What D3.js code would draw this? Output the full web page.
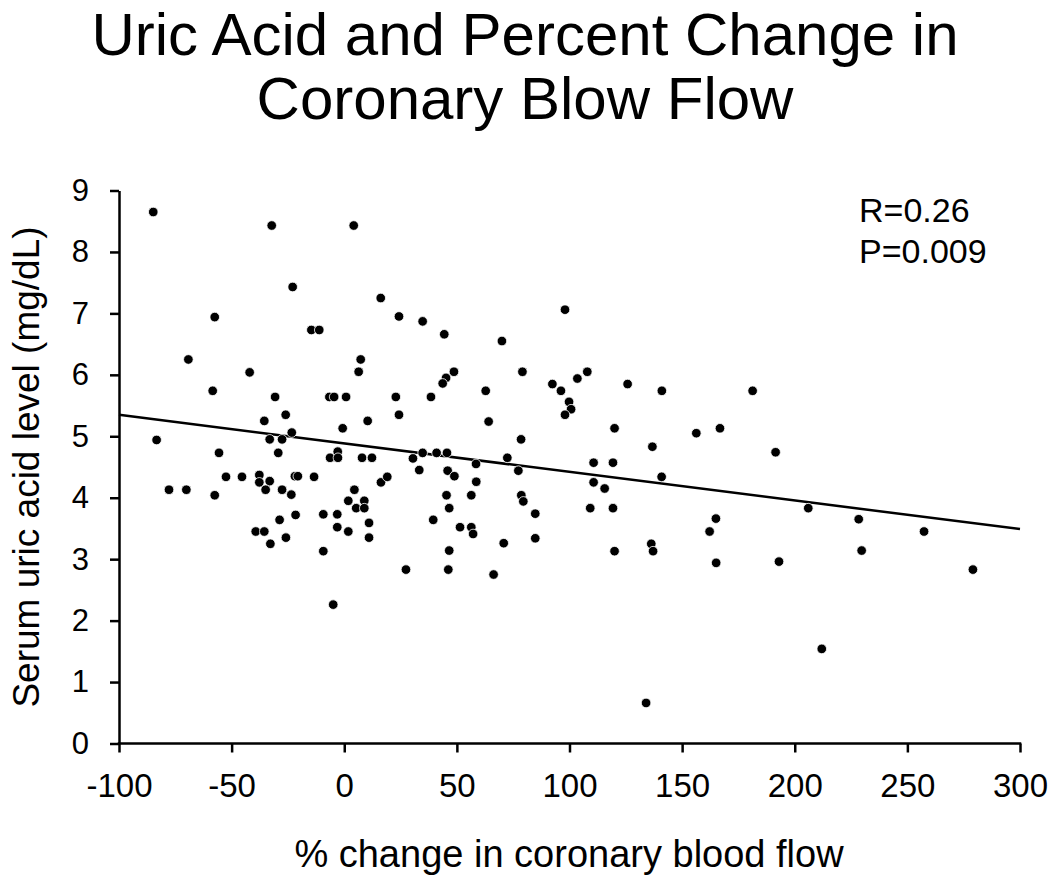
<!DOCTYPE html>
<html>
<head>
<meta charset="utf-8">
<script src="https://cdn.jsdelivr.net/npm/d3@7"></script>
<style>
  body { margin: 0; background: #fff; }
  svg { display: block; font-family: "Liberation Sans", Arial, sans-serif; }
</style>
</head>
<body>
<script>
// % change in coronary blood flow
const xVals = [
  -84.8, -32.2, -22.9, -57.5, -14.6, -11.1, -69.2, -42.0, -58.4, -30.7,
  -6.6, -4.5, 0.8, -26.0, -35.5, -0.7, -23.3, -83.3, -33.1, -27.6,
  -55.6, -29.3, -2.9, -6.3, -2.8, -77.8, -70.1, -52.5, -45.4, -37.7,
  -37.7, -33.1, -34.9, -27.6, -57.5, -23.5, -21.9, -20.6, -13.4, 1.8,
  -21.6, -9.3, -3.1, -28.7, -3.1, -39.3, -35.5, 1.8, -25.9, -32.8,
  -9.3, -4.9, 4.2, 16.2, 24.3, 34.8, 44.4, 70.0, 98.0, 7.3,
  6.4, 48.7, 45.2, 43.7, 79.1, 92.4, 96.2, 103.5, 99.8, 100.7,
  98.0, 22.9, 38.5, 62.8, 10.4, 24.3, 64.1, 78.5, 7.9, 12.3,
  30.5, 34.8, 41.0, 45.6, 58.5, 72.4, 33.3, 45.9, 48.9, 58.6,
  77.3, 16.3, 19.1, 4.5, 8.9, 5.3, 8.9, 11.0, 11.0, 45.4,
  46.6, 39.5, 56.4, 51.4, 56.4, 57.2, 78.6, 79.5, 84.8, 84.8,
  70.8, 46.6, 27.4, 46.2, 66.3, 107.9, 125.8, 141.0, 181.3, 120.0,
  156.3, 166.8, 136.8, 191.5, 110.7, 119.3, 140.9, 110.7, 115.6, 109.2,
  119.3, 206.0, 165.0, 162.2, 120.0, 136.3, 137.1, 165.1, 193.0, 228.4,
  229.7, 257.4, 279.1, 212.0, 134.0
];
// Serum uric acid level (mg/dL)
const yVals = [
  8.65, 8.43, 7.43, 6.94, 6.73, 6.73, 6.25, 6.04, 5.74, 5.64,
  5.64, 5.64, 5.64, 5.35, 5.25, 5.13, 5.06, 4.94, 4.95, 4.95,
  4.73, 4.73, 4.75, 4.65, 4.65, 4.13, 4.13, 4.34, 4.34, 4.37,
  4.25, 4.27, 4.13, 4.13, 4.04, 4.05, 4.35, 4.35, 4.34, 3.95,
  3.72, 3.73, 3.73, 3.64, 3.52, 3.45, 3.45, 3.45, 3.35, 3.25,
  3.13, 2.26, 8.43, 7.25, 6.95, 6.87, 6.66, 6.55, 7.06, 6.25,
  6.05, 6.05, 5.95, 5.86, 6.05, 5.85, 5.74, 5.94, 5.56, 5.44,
  5.35, 5.64, 5.64, 5.74, 5.25, 5.35, 5.24, 4.95, 4.65, 4.65,
  4.64, 4.73, 4.73, 4.73, 4.55, 4.65, 4.45, 4.44, 4.35, 4.26,
  4.44, 4.25, 4.34, 4.13, 3.95, 3.83, 3.83, 3.59, 3.35, 4.04,
  3.83, 3.64, 4.04, 3.52, 3.52, 3.41, 4.04, 3.94, 3.74, 3.34,
  3.26, 3.14, 2.83, 2.83, 2.75, 6.05, 5.85, 5.74, 5.74, 5.13,
  5.05, 5.13, 4.83, 4.74, 4.57, 4.57, 4.34, 4.25, 4.15, 3.83,
  3.83, 3.83, 3.66, 3.45, 3.13, 3.25, 3.13, 2.94, 2.96, 3.65,
  3.14, 3.45, 2.83, 1.54, 0.66
];
// Trend line endpoints
const trendX = [-100, 300];
const trendY = [5.35, 3.49];

const xTicks = [-100, -50, 0, 50, 100, 150, 200, 250, 300];
const yTicks = [0, 1, 2, 3, 4, 5, 6, 7, 8, 9];
const titleLines = ["Uric Acid and Percent Change in", "Coronary Blow Flow"];
const statLines = ["R=0.26", "P=0.009"];

const W = 1050, H = 878;
const svg = d3.select("body").append("svg").attr("width", W).attr("height", H);

const x = d3.scaleLinear().domain([-100, 300]).range([119, 1020]);
const y = d3.scaleLinear().domain([0, 9]).range([743.5, 190.5]);

// Title
svg.append("g").selectAll("text").data(titleLines).join("text")
  .attr("x", 525).attr("y", (d, i) => 55 + i * 64)
  .attr("text-anchor", "middle")
  .attr("font-size", 60).attr("fill", "#000")
  .text(d => d);

// Axes
const fmt = d => String(d);
const xAxis = svg.append("g").attr("transform", `translate(0,${y(0)})`)
  .call(d3.axisBottom(x).tickValues(xTicks).tickSize(9).tickSizeOuter(0).tickPadding(21).tickFormat(fmt));
const yAxis = svg.append("g").attr("transform", `translate(${x(-100)},0)`)
  .call(d3.axisLeft(y).tickValues(yTicks).tickSize(9).tickSizeOuter(0).tickPadding(21).tickFormat(fmt));

[xAxis, yAxis].forEach(g => {
  g.select(".domain").attr("stroke", "#000").attr("stroke-width", 2.5);
  g.selectAll(".tick line").attr("stroke", "#000").attr("stroke-width", 2.5);
  g.selectAll(".tick text").attr("fill", "#000").attr("font-family", "Liberation Sans, Arial, sans-serif");
});
xAxis.selectAll(".tick text").attr("font-size", 33);
yAxis.selectAll(".tick text").attr("font-size", 31);
xAxis.select(".domain").attr("d", `M${x(-100) - 1.25},0H${x(300) + 1.25}`);

// Axis titles
svg.append("text")
  .attr("x", 569).attr("y", 867)
  .attr("text-anchor", "middle").attr("font-size", 38).attr("fill", "#000")
  .text("% change in coronary blood flow");
svg.append("text")
  .attr("transform", "translate(39,467) rotate(-90)")
  .attr("text-anchor", "middle").attr("font-size", 37).attr("fill", "#000")
  .text("Serum uric acid level (mg/dL)");

// Trend line
svg.append("line")
  .attr("x1", x(trendX[0])).attr("y1", y(trendY[0]))
  .attr("x2", x(trendX[1])).attr("y2", y(trendY[1]))
  .attr("stroke", "#000").attr("stroke-width", 2.5);

// Points
const pts = xVals.map((v, i) => ({ x: v, y: yVals[i] }));
svg.append("g").selectAll("circle").data(pts).join("circle")
  .attr("cx", d => x(d.x)).attr("cy", d => y(d.y))
  .attr("r", 4.8).attr("fill", "#000")
  .attr("stroke", "#fff").attr("stroke-width", 0.8);

// Stats
svg.append("g").selectAll("text").data(statLines).join("text")
  .attr("x", 859).attr("y", (d, i) => 222 + i * 41)
  .attr("font-size", 34).attr("fill", "#000")
  .text(d => d);
</script>
</body>
</html>
